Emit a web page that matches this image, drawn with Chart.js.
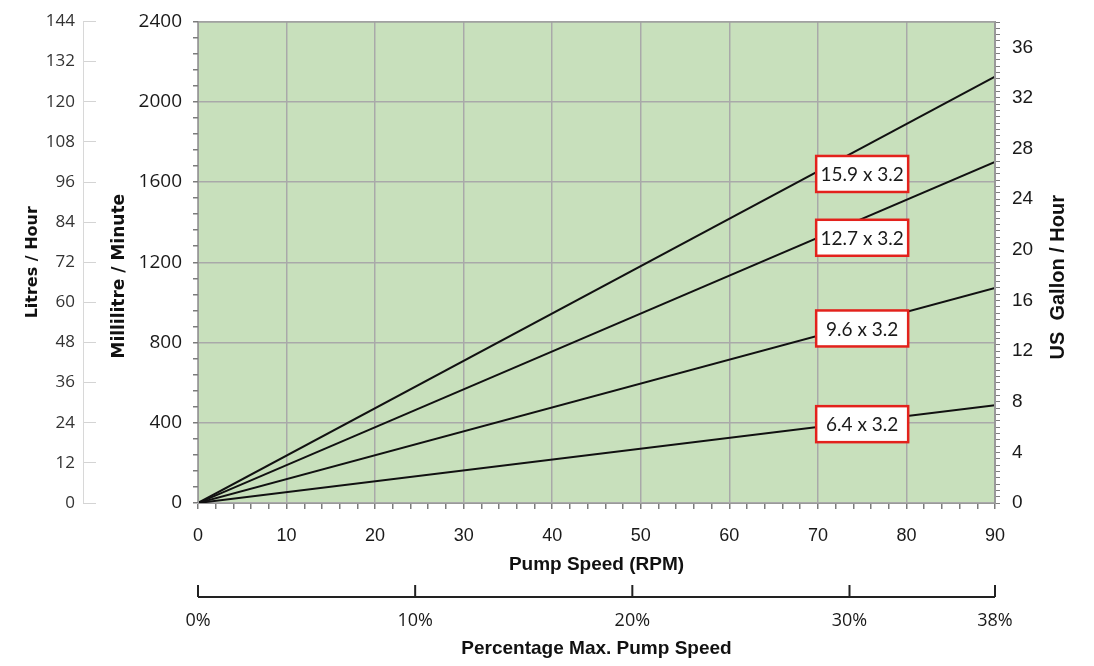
<!DOCTYPE html>
<html lang="en">
<head>
<meta charset="UTF-8"/>
<title>Pump Speed vs Flow</title>
<style>
  body { margin: 0; background: #fff; }
  #wrap { width: 1094px; height: 666px; position: relative; }
</style>
</head>
<body>
<div id="wrap"><canvas id="chart"></canvas></div>
<script src="https://cdn.jsdelivr.net/npm/chart.js@4.4.1/dist/chart.umd.min.js"></script>
<script>
// tube sizes (bore x wall, mm)
const tubeNames = ['15.9 x 3.2', '12.7 x 3.2', '9.6 x 3.2', '6.4 x 3.2'];
// flow at 0 and 90 RPM, ml/min
const rpmPoints = [0, 90];
const flow159 = [0, 2125];
const flow127 = [0, 1700];
const flow96  = [0, 1072];
const flow64  = [0, 487];
// tag boxes (RPM, ml/min)
const tagRpm = 75;
const tagFlow = [1640, 1322, 870, 393];
// percentage axis
const pctTickValues = [0, 10, 20, 30, 36.7];
const pctTickLabels = ['0%', '10%', '20%', '30%', '38%'];
// axis ranges
const mlMax = 2400, lphMax = 144, galMax = 38.04, pctMax = 36.7;

const flows = [flow159, flow127, flow96, flow64];

const near = (v, step) => Math.abs(v / step - Math.round(v / step)) < 1e-6;
const GRID = '#a9a9a9', TICK = '#7c7c7c';

function vText(ctx, text, x, y, font) {
  ctx.save();
  ctx.translate(x, y);
  ctx.rotate(-Math.PI / 2);
  ctx.fillStyle = '#111';
  ctx.font = font;
  ctx.textAlign = 'center';
  ctx.textBaseline = 'middle';
  ctx.fillText(text, 0, 0);
  ctx.restore();
}

const deco = {
  id: 'deco',
  beforeDraw(chart) {
    const { ctx, chartArea: a } = chart;
    ctx.save();
    ctx.fillStyle = '#c8e0bc';
    ctx.fillRect(a.left, a.top, a.right - a.left, a.bottom - a.top);
    ctx.restore();
  },
  afterDraw(chart) {
    const { ctx, chartArea: a, scales } = chart;
    ctx.save();
    // plot frame
    ctx.strokeStyle = '#999';
    ctx.lineWidth = 1;
    ctx.strokeRect(a.left + 0.5, a.top + 0.5, a.right - a.left - 1, a.bottom - a.top);

    // litres axis line (ticks sit to its right)
    const l = scales.lph;
    const lx = l.right - l.options.grid.tickLength;
    ctx.strokeStyle = '#d8d8d8';
    ctx.beginPath();
    ctx.moveTo(lx + 0.5, l.getPixelForValue(lphMax));
    ctx.lineTo(lx + 0.5, l.getPixelForValue(0));
    ctx.stroke();

    // percentage axis: line with upward ticks
    const p = scales.pct;
    const py = p.top + 16;
    ctx.strokeStyle = '#222';
    ctx.lineWidth = 2;
    ctx.beginPath();
    ctx.moveTo(p.getPixelForValue(0), py);
    ctx.lineTo(p.getPixelForValue(pctMax), py);
    pctTickValues.forEach(v => {
      const x = p.getPixelForValue(v);
      ctx.moveTo(x, py);
      ctx.lineTo(x, py - 12);
    });
    ctx.stroke();
    ctx.restore();

    const mid = (a.top + a.bottom) / 2;
    vText(ctx, 'Millilitre / Minute', scales.ml.left + 24, mid + 14,
      'bold 17px "DejaVu Sans", Verdana, sans-serif');
    vText(ctx, 'US  Gallon / Hour', 1058, mid + 15,
      'bold 20px "Liberation Sans", Arial, sans-serif');

    // tube tags
    ctx.save();
    const x = scales.x.getPixelForValue(tagRpm);
    ctx.font = '19px Lato, "Open Sans", sans-serif';
    ctx.textAlign = 'center';
    ctx.textBaseline = 'middle';
    tubeNames.forEach((name, i) => {
      const y = scales.ml.getPixelForValue(tagFlow[i]);
      ctx.fillStyle = '#fff';
      ctx.fillRect(x - 46, y - 18, 92, 36);
      ctx.strokeStyle = '#e3221c';
      ctx.lineWidth = 2.5;
      ctx.strokeRect(x - 46, y - 18, 92, 36);
      ctx.fillStyle = '#1a1a1a';
      ctx.fillText(name, x, y + 1);
    });
    ctx.restore();
  }
};

const datasets = flows.map((f, i) => ({
  label: tubeNames[i],
  data: rpmPoints.map((r, j) => ({ x: r, y: f[j] })),
  borderColor: '#111',
  borderWidth: 2,
  pointRadius: 0,
  fill: false,
  xAxisID: 'x',
  yAxisID: 'ml'
}));

new Chart(document.getElementById('chart'), {
  type: 'line',
  data: { datasets },
  plugins: [deco],
  options: {
    responsive: true,
    maintainAspectRatio: false,
    animation: false,
    layout: { padding: { top: 20, right: 0, left: 0, bottom: 0 } },
    plugins: { legend: { display: false }, tooltip: { enabled: false } },
    scales: {
      x: {
        type: 'linear', position: 'bottom', weight: 0,
        min: 0, max: 90,
        afterFit: s => { s.height = 78; },
        border: { display: true, color: '#999' },
        grid: {
          color: c => (c.tick && near(c.tick.value, 10)) ? GRID : 'rgba(0,0,0,0)',
          tickColor: TICK, tickLength: 6, lineWidth: 1.5
        },
        ticks: {
          stepSize: 2, autoSkip: false, maxRotation: 0, padding: 16,
          color: '#1a1a1a',
          font: { family: '"Liberation Sans", Arial, sans-serif', size: 18 },
          callback: v => near(v, 10) ? String(Math.round(v)) : ''
        },
        title: {
          display: true, text: 'Pump Speed (RPM)', color: '#111',
          padding: { top: 0, bottom: 5 },
          font: { family: '"Liberation Sans", Arial, sans-serif', size: 19, weight: 'bold' }
        }
      },
      pct: {
        type: 'linear', position: 'bottom', weight: 1,
        min: 0, max: pctMax,
        afterFit: s => { s.height = 85; },
        afterBuildTicks: s => { s.ticks = pctTickValues.map(v => ({ value: v })); },
        border: { display: false },
        grid: { display: false, drawTicks: false },
        ticks: {
          autoSkip: false, maxRotation: 0, padding: 29,
          color: '#1a1a1a',
          font: { family: '"Open Sans", sans-serif', size: 18 },
          callback: (v, i) => pctTickLabels[i]
        },
        title: {
          display: true, text: 'Percentage Max. Pump Speed', color: '#111',
          padding: { top: 0, bottom: 6 },
          font: { family: '"Liberation Sans", Arial, sans-serif', size: 19, weight: 'bold' }
        }
      },
      ml: {
        type: 'linear', position: 'left', weight: 0,
        min: 0, max: mlMax,
        afterFit: s => { s.width = 102; },
        border: { display: true, color: '#999' },
        grid: {
          color: c => (c.tick && near(c.tick.value, 400)) ? GRID : 'rgba(0,0,0,0)',
          tickColor: TICK, tickLength: 5, lineWidth: 1.5
        },
        ticks: {
          stepSize: 80, autoSkip: false, padding: 11,
          color: '#1a1a1a',
          font: { family: '"Open Sans", sans-serif', size: 19, lineHeight: 1 },
          callback: v => near(v, 400) ? String(Math.round(v)) : ''
        },
        title: { display: false }
      },
      lph: {
        type: 'linear', position: 'left', weight: 1,
        min: 0, max: lphMax,
        afterFit: s => { s.width = 96; },
        border: { display: false },
        grid: { drawOnChartArea: false, color: '#d4d4d4', tickLength: 13 },
        ticks: {
          stepSize: 12, autoSkip: false, padding: 8,
          color: '#333',
          font: { family: '"Open Sans", sans-serif', size: 17, lineHeight: 1 }
        },
        title: {
          display: true, text: 'Litres / Hour', color: '#111',
          padding: { top: 23, bottom: 0 },
          font: { family: '"DejaVu Sans", Verdana, sans-serif', size: 16, weight: 'bold' }
        }
      },
      gal: {
        type: 'linear', position: 'right',
        min: 0, max: galMax,
        afterFit: s => { s.width = 99; },
        border: { display: true, color: '#999' },
        grid: { drawOnChartArea: false, tickColor: TICK, tickLength: 5 },
        ticks: {
          stepSize: 0.5, includeBounds: false, autoSkip: false, padding: 12,
          color: '#1a1a1a',
          font: { family: '"Liberation Sans", Arial, sans-serif', size: 19, lineHeight: 1 },
          callback: v => near(v, 4) ? String(Math.round(v)) : ''
        },
        title: { display: false }
      }
    }
  }
});
</script>
</body>
</html>
